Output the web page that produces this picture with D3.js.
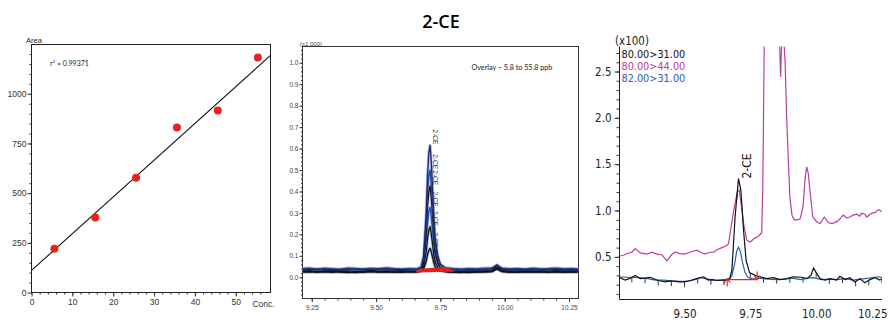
<!DOCTYPE html>
<html>
<head>
<meta charset="utf-8">
<script src="https://cdn.jsdelivr.net/npm/d3@7"></script>
<style>
  body { margin: 0; background: #fff; }
  svg { display: block; }
</style>
</head>
<body>
<svg id="chart" width="894" height="320"></svg>
<script>
const title = '2-CE';

// ---- left: calibration curve ----
const calConc = [5.6, 15.6, 25.6, 35.6, 45.6, 55.4];
const calArea = [220, 378, 577, 830, 916, 1182];
const calFit = [111, 18.5]; // intercept, slope of drawn line
const calR2 = '0.99371';
const calTicksX = [0, 10, 20, 30, 40, 50];
const calTicksY = [0, 250, 500, 750, 1000];

// ---- middle: overlay 5.8 .. 55.8 ppb (x1,000) ----
const midTime = [9.214, 9.24, 9.27, 9.30, 9.33, 9.36, 9.39, 9.42, 9.45, 9.48, 9.51, 9.54, 9.57, 9.60, 9.63, 9.66,
  9.675, 9.685, 9.695, 9.70, 9.705, 9.71, 9.715, 9.72, 9.725, 9.73, 9.74, 9.75, 9.77, 9.80, 9.83, 9.86, 9.89,
  9.92, 9.95, 9.97, 9.99, 10.02, 10.05, 10.08, 10.11, 10.14, 10.17, 10.20, 10.23, 10.26, 10.287];
const mid558 = [0.036, 0.038, 0.034, 0.037, 0.033, 0.036, 0.039, 0.034, 0.037, 0.035, 0.038, 0.040, 0.035, 0.036, 0.034, 0.036,
  0.045, 0.10, 0.30, 0.47, 0.58, 0.615, 0.53, 0.40, 0.27, 0.18, 0.10, 0.06, 0.040, 0.036, 0.033, 0.036, 0.034,
  0.035, 0.040, 0.058, 0.040, 0.034, 0.036, 0.035, 0.037, 0.034, 0.036, 0.038, 0.035, 0.036, 0.034];
const mid458 = [0.041, 0.043, 0.039, 0.042, 0.040, 0.038, 0.043, 0.041, 0.039, 0.042, 0.040, 0.044, 0.041, 0.039, 0.041, 0.040,
  0.048, 0.09, 0.25, 0.39, 0.47, 0.50, 0.43, 0.33, 0.22, 0.15, 0.09, 0.06, 0.044, 0.041, 0.039, 0.041, 0.040,
  0.042, 0.044, 0.055, 0.043, 0.040, 0.041, 0.039, 0.042, 0.040, 0.041, 0.043, 0.040, 0.041, 0.039];
const mid358 = [0.029, 0.031, 0.027, 0.030, 0.032, 0.028, 0.030, 0.027, 0.029, 0.031, 0.028, 0.030, 0.029, 0.031, 0.028, 0.030,
  0.035, 0.07, 0.21, 0.33, 0.40, 0.425, 0.37, 0.28, 0.19, 0.12, 0.07, 0.045, 0.032, 0.029, 0.027, 0.030, 0.028,
  0.030, 0.031, 0.048, 0.032, 0.028, 0.029, 0.030, 0.028, 0.030, 0.029, 0.031, 0.029, 0.030, 0.028];
const mid258 = [0.036, 0.034, 0.038, 0.035, 0.037, 0.034, 0.036, 0.038, 0.035, 0.033, 0.036, 0.037, 0.034, 0.036, 0.035, 0.036,
  0.040, 0.065, 0.17, 0.25, 0.31, 0.325, 0.28, 0.21, 0.15, 0.10, 0.06, 0.045, 0.037, 0.035, 0.034, 0.036, 0.035,
  0.036, 0.038, 0.050, 0.037, 0.035, 0.036, 0.034, 0.036, 0.035, 0.037, 0.036, 0.034, 0.036, 0.035];
const mid158 = [0.026, 0.024, 0.027, 0.025, 0.023, 0.026, 0.024, 0.022, 0.025, 0.027, 0.024, 0.026, 0.025, 0.023, 0.026, 0.025,
  0.030, 0.05, 0.12, 0.18, 0.22, 0.235, 0.20, 0.15, 0.10, 0.07, 0.045, 0.035, 0.027, 0.024, 0.022, 0.025, 0.024,
  0.026, 0.027, 0.042, 0.027, 0.023, 0.025, 0.026, 0.024, 0.025, 0.023, 0.026, 0.025, 0.024, 0.026];
const mid58 = [0.024, 0.026, 0.023, 0.025, 0.027, 0.024, 0.022, 0.025, 0.023, 0.026, 0.024, 0.025, 0.023, 0.026, 0.024, 0.025,
  0.028, 0.04, 0.075, 0.105, 0.125, 0.135, 0.118, 0.09, 0.065, 0.048, 0.035, 0.030, 0.025, 0.023, 0.024, 0.022, 0.025,
  0.024, 0.026, 0.038, 0.026, 0.024, 0.023, 0.025, 0.024, 0.026, 0.024, 0.025, 0.023, 0.025, 0.024];
const midTraces = [mid58, mid158, mid258, mid358, mid458, mid558];
const midColors = ['#111111', '#111111', '#2451a6', '#111111', '#21489e', '#23236f'];
const midPeakTime = 9.71;
const midBaseStart = [9.655, 9.658, 9.66, 9.662, 9.665, 9.668];
const midBaseEnd = [9.80, 9.795, 9.79, 9.785, 9.78, 9.775];
const midBaseLevel0 = [0.026, 0.028, 0.030, 0.032, 0.034, 0.036];
const midBaseLevel1 = [0.030, 0.034, 0.036, 0.040, 0.042, 0.044];
const midTicksX = [9.25, 9.50, 9.75, 10.00, 10.25];
const midTicksY = [0, 0.1, 0.2, 0.3, 0.4, 0.5, 0.6, 0.7, 0.8, 0.9, 1.0];
const midNote = 'Overlay \u2013 5.8 to 55.8 ppb';

// ---- right: single run, three transitions (x100) ----
const rBlackT = [9.253, 9.275, 9.295, 9.313, 9.332, 9.35, 9.37, 9.395, 9.41, 9.427, 9.445, 9.465, 9.48, 9.50, 9.515,
  9.528, 9.553, 9.572, 9.59, 9.605, 9.623, 9.64, 9.66, 9.672, 9.68, 9.692, 9.705, 9.714, 9.724, 9.734, 9.747,
  9.768, 9.787, 9.812, 9.838, 9.863, 9.888, 9.913, 9.945, 9.964, 9.98, 9.99, 10.0, 10.015, 10.034, 10.053,
  10.078, 10.09, 10.11, 10.128, 10.147, 10.166, 10.185, 10.204, 10.223, 10.242, 10.25];
const rBlackV = [0.275, 0.25, 0.27, 0.30, 0.265, 0.27, 0.28, 0.25, 0.24, 0.23, 0.24, 0.235, 0.23, 0.23, 0.24,
  0.25, 0.27, 0.285, 0.25, 0.255, 0.245, 0.25, 0.25, 0.27, 0.36, 0.93, 1.345, 1.22, 0.79, 0.46, 0.33,
  0.30, 0.285, 0.265, 0.275, 0.255, 0.265, 0.285, 0.28, 0.265, 0.30, 0.38, 0.33, 0.265, 0.25, 0.265,
  0.25, 0.29, 0.255, 0.275, 0.23, 0.265, 0.22, 0.255, 0.275, 0.25, 0.265];
const rBlueT = [9.253, 9.28, 9.30, 9.33, 9.36, 9.39, 9.42, 9.45, 9.48, 9.50, 9.53, 9.56, 9.58, 9.61, 9.64, 9.67,
  9.68, 9.69, 9.698, 9.705, 9.712, 9.72, 9.73, 9.74, 9.76, 9.79, 9.82, 9.85, 9.88, 9.91, 9.94, 9.97, 9.99,
  10.02, 10.05, 10.08, 10.11, 10.14, 10.17, 10.20, 10.22, 10.24, 10.25];
const rBlueV = [0.285, 0.28, 0.28, 0.275, 0.265, 0.25, 0.25, 0.24, 0.235, 0.235, 0.245, 0.275, 0.265, 0.25, 0.25, 0.26,
  0.30, 0.42, 0.56, 0.605, 0.56, 0.44, 0.33, 0.28, 0.26, 0.27, 0.26, 0.255, 0.26, 0.27, 0.255, 0.27, 0.275,
  0.255, 0.26, 0.255, 0.265, 0.25, 0.26, 0.27, 0.28, 0.285, 0.275];
const rPinkT = [9.253, 9.27, 9.281, 9.30, 9.313, 9.332, 9.357, 9.375, 9.395, 9.415, 9.433, 9.45, 9.465, 9.48, 9.50,
  9.52, 9.547, 9.565, 9.578, 9.595, 9.61, 9.625, 9.642, 9.655, 9.667, 9.68, 9.69, 9.70, 9.708, 9.716, 9.725,
  9.736, 9.75, 9.765, 9.78, 9.793, 9.797, 9.80, 9.803, 9.86, 9.865, 9.87, 9.876, 9.882, 9.888, 9.895, 9.90,
  9.908, 9.916, 9.93, 9.939, 9.95, 9.958, 9.964, 9.97, 9.977, 9.987, 10.002, 10.015, 10.031, 10.046, 10.06,
  10.078, 10.09, 10.103, 10.116, 10.128, 10.14, 10.154, 10.165, 10.173, 10.185, 10.192, 10.21, 10.225, 10.236, 10.25];
const rPinkV = [0.507, 0.52, 0.536, 0.55, 0.59, 0.543, 0.529, 0.55, 0.53, 0.52, 0.457, 0.52, 0.554, 0.535, 0.53,
  0.55, 0.572, 0.545, 0.53, 0.55, 0.55, 0.58, 0.60, 0.615, 0.64, 0.88, 1.05, 1.2, 1.22, 1.05, 0.85,
  0.68, 0.66, 0.70, 0.72, 0.76, 1.2, 2.0, 2.9, 2.9, 2.44, 2.9, 2.9, 2.6, 2.0, 1.5, 1.15,
  0.95, 0.9, 0.9, 0.91, 1.04, 1.35, 1.47, 1.40, 1.2, 0.93, 0.88, 0.86, 0.93, 0.87, 0.86,
  0.88, 0.91, 0.95, 0.92, 0.93, 0.95, 0.96, 0.94, 0.97, 0.96, 0.93, 0.97, 0.98, 1.01, 0.99];
const rightLegend = ['80.00>31.00', '80.00>44.00', '82.00>31.00'];
const rightColors = ['#111111', '#b8409a', '#2c5db0'];
const rightBaseT = [9.662, 9.776];
const rightBaseV = [0.255, 0.255];
const rightTicksX = [9.50, 9.75, 10.00, 10.25];
const rightTicksY = [0.5, 1.0, 1.5, 2.0, 2.5];

const red = '#e5211d';
const axisFont = '"Liberation Sans", Arial, sans-serif';
const svg = d3.select('#chart');

function styleAxis(g, size, color) {
  g.select('.domain').remove();
  g.attr('font-size', size).attr('font-family', axisFont);
  g.selectAll('line').attr('stroke', '#333');
  g.selectAll('text').attr('fill', color || '#333');
}

// title
svg.append('text')
  .attr('x', 441).attr('y', 28)
  .attr('text-anchor', 'middle')
  .style('font', '600 18px "Open Sans", "Noto Sans", sans-serif')
  .text(title);

// ===== left panel =====
const lx = d3.scaleLinear().domain([0, 58.5]).range([31.5, 270.5]);
const ly = d3.scaleLinear().domain([0, 1248]).range([292.5, 44.5]);
const left = svg.append('g');

left.append('g').attr('transform', 'translate(0,292.5)')
  .call(d3.axisBottom(lx).tickValues(d3.range(0, 58, 2)).tickSize(2).tickFormat(''))
  .call(g => styleAxis(g, 9));
left.append('g').attr('transform', 'translate(0,292.5)')
  .call(d3.axisBottom(lx).tickValues(calTicksX).tickSize(4).tickPadding(2).tickFormat(d3.format('d')))
  .call(g => styleAxis(g, 8.5));
left.append('g').attr('transform', 'translate(31.5,0)')
  .call(d3.axisLeft(ly).tickValues(d3.range(50, 1250, 50)).tickSize(2).tickFormat(''))
  .call(g => styleAxis(g, 9));
left.append('g').attr('transform', 'translate(31.5,0)')
  .call(d3.axisLeft(ly).tickValues(calTicksY).tickSize(4).tickPadding(1).tickFormat(d3.format('d')))
  .call(g => styleAxis(g, 8.5));

left.append('rect')
  .attr('x', lx.range()[0]).attr('y', ly.range()[1])
  .attr('width', lx.range()[1] - lx.range()[0])
  .attr('height', ly.range()[0] - ly.range()[1])
  .attr('fill', 'none').attr('stroke', '#222');

left.append('text').attr('x', lx(56.8)).attr('y', 306.5).attr('text-anchor', 'middle')
  .attr('font-family', axisFont).attr('font-size', 8.5).attr('fill', '#333').text('Conc.');
left.append('text').attr('x', 26).attr('y', 43).attr('font-family', axisFont)
  .attr('font-size', 7.5).attr('fill', '#222').text('Area');

const fitX = lx.domain();
left.append('line')
  .attr('x1', lx(fitX[0])).attr('y1', ly(calFit[0] + calFit[1] * fitX[0]))
  .attr('x2', lx(fitX[1])).attr('y2', ly(calFit[0] + calFit[1] * fitX[1]))
  .attr('stroke', '#111').attr('stroke-width', 1.1);

left.selectAll('circle.cal')
  .data(calConc.map((c, i) => [c, calArea[i]]))
  .join('circle')
  .attr('class', 'cal')
  .attr('cx', d => lx(d[0])).attr('cy', d => ly(d[1]))
  .attr('r', 4).attr('fill', '#e8231f');

const r2 = left.append('text').attr('x', 50).attr('y', 65.5)
  .style('font', '7px Lato, "Open Sans", sans-serif').attr('fill', '#222');
r2.append('tspan').text('r');
r2.append('tspan').attr('dy', -2.5).attr('font-size', 4.5).text('2');
r2.append('tspan').attr('dy', 2.5).text(' = ' + calR2);

// ===== middle panel =====
const mx = d3.scaleLinear().domain([9.214, 10.287]).range([302.5, 578.5]);
const my = d3.scaleLinear().domain([-0.099, 1.076]).range([298.5, 46.5]);
const mid = svg.append('g');

mid.append('g').attr('transform', 'translate(0,298.5)')
  .call(d3.axisBottom(mx).tickValues(d3.range(9.25, 10.27, 0.05)).tickSize(2).tickFormat(''))
  .call(g => styleAxis(g, 6.5));
mid.append('g').attr('transform', 'translate(0,298.5)')
  .call(d3.axisBottom(mx).tickValues(midTicksX).tickSize(3.5).tickPadding(3).tickFormat(d3.format('.2f')))
  .call(g => styleAxis(g, 6.5, '#444'));
mid.append('g').attr('transform', 'translate(302.5,0)')
  .call(d3.axisLeft(my).tickValues(d3.range(-0.08, 1.07, 0.02)).tickSize(1.5).tickFormat(''))
  .call(g => styleAxis(g, 6.5));
mid.append('g').attr('transform', 'translate(302.5,0)')
  .call(d3.axisLeft(my).tickValues(midTicksY).tickSize(3).tickPadding(1).tickFormat(d3.format('.1f')))
  .call(g => styleAxis(g, 6.5, '#444'));

mid.append('rect')
  .attr('x', 302.5).attr('y', 46.5).attr('width', 276).attr('height', 252)
  .attr('fill', 'none').attr('stroke', '#333');

mid.append('text').attr('x', 300).attr('y', 46).attr('font-family', axisFont)
  .attr('font-size', 6).attr('fill', '#444').text('(x1,000)');
mid.append('text').attr('x', 471.5).attr('y', 69.5)
  .style('font', '7.2px Lato, "Open Sans", sans-serif').attr('fill', '#222').text(midNote);

const midLine = d3.line().x((d, i) => mx(midTime[i])).y(d => my(d));

// light halo then trace
midTraces.forEach(tr => {
  mid.append('path').datum(tr).attr('d', midLine)
    .attr('fill', 'none').attr('stroke', '#8ea6d6').attr('stroke-width', 3)
    .attr('stroke-linejoin', 'round').attr('opacity', 0.7);
});
midTraces.forEach((tr, i) => {
  mid.append('path').datum(tr).attr('d', midLine)
    .attr('fill', 'none').attr('stroke', midColors[i]).attr('stroke-width', 1.3)
    .attr('stroke-linejoin', 'round');
});

// integration baselines
midTraces.forEach((tr, i) => {
  mid.append('line')
    .attr('x1', mx(midBaseStart[i])).attr('y1', my(midBaseLevel0[i]))
    .attr('x2', mx(midBaseEnd[i])).attr('y2', my(midBaseLevel1[i]))
    .attr('stroke', red).attr('stroke-width', 1.6);
});

midTraces.forEach(tr => {
  const top = d3.max(tr);
  mid.append('text')
    .attr('transform', `translate(${mx(midPeakTime) + 2.5},${my(top) - 1}) rotate(90)`)
    .attr('text-anchor', 'end')
    .attr('font-family', axisFont).attr('font-size', 6.5).attr('fill', '#333')
    .text('2-CE');
});

// ===== right panel =====
const rx = d3.scaleLinear().domain([9.253, 10.25]).range([619.5, 882]);
const ry = d3.scaleLinear().domain([0.04, 2.77]).range([299.5, 46.5]);
const right = svg.append('g');
const rFont = '"Liberation Sans Narrow", "Arial Narrow", "DejaVu Sans Condensed", "Liberation Sans", sans-serif';

right.append('defs').append('clipPath').attr('id', 'rclip')
  .append('rect').attr('x', 619.5).attr('y', 46.5).attr('width', 262.5).attr('height', 253);

const yMinor = right.append('g').attr('transform', 'translate(619.5,0)')
  .call(d3.axisLeft(ry).tickValues(d3.range(0.1, 2.75, 0.1)).tickSize(3).tickFormat(''));
styleAxis(yMinor, 11);
const yMajor = right.append('g').attr('transform', 'translate(619.5,0)')
  .call(d3.axisLeft(ry).tickValues(rightTicksY).tickSize(5).tickPadding(3).tickFormat(d3.format('.1f')));
styleAxis(yMajor, 11.5, '#222');
yMajor.attr('font-family', rFont);
const xr = right.append('g').attr('transform', 'translate(0,299.5)')
  .call(d3.axisBottom(rx).tickValues(rightTicksX).tickSize(0).tickPadding(10).tickFormat(d3.format('.2f')));
styleAxis(xr, 11.5, '#222');
xr.attr('font-family', rFont);
// last label sits against the edge
xr.selectAll('text').filter(d => d === rightTicksX[rightTicksX.length - 1])
  .attr('text-anchor', 'end').attr('x', 887 - rx(rightTicksX[rightTicksX.length - 1]));

right.append('line').attr('x1', 619.5).attr('x2', 619.5).attr('y1', 46.5).attr('y2', 299.5)
  .attr('stroke', '#222');
right.append('line').attr('x1', 619.5).attr('x2', 882).attr('y1', 299.5).attr('y2', 299.5)
  .attr('stroke', '#222');

const plot = right.append('g').attr('clip-path', 'url(#rclip)');
const rLine = d3.line().x(d => rx(d[0])).y(d => ry(d[1]));
const zipT = (t, v) => t.map((x, i) => [x, v[i]]);

// hanging scan ticks along the black trace
const bis = d3.bisector(d => d).left;
function blackAt(t) {
  const i = Math.min(Math.max(bis(rBlackT, t), 1), rBlackT.length - 1);
  const t0 = rBlackT[i - 1], t1 = rBlackT[i];
  return rBlackV[i - 1] + (rBlackV[i] - rBlackV[i - 1]) * (t - t0) / (t1 - t0);
}
plot.selectAll('line.scan')
  .data(d3.range(9.30, 10.251, 0.05))
  .join('line')
  .attr('class', 'scan')
  .attr('x1', d => rx(d)).attr('x2', d => rx(d))
  .attr('y1', d => ry(blackAt(d))).attr('y2', d => ry(blackAt(d)) + 5)
  .attr('stroke', '#333').attr('stroke-width', 1);

plot.append('path').datum(zipT(rPinkT, rPinkV)).attr('d', rLine)
  .attr('fill', 'none').attr('stroke', rightColors[1]).attr('stroke-width', 1.2);
plot.append('path').datum(zipT(rBlueT, rBlueV)).attr('d', rLine)
  .attr('fill', 'none').attr('stroke', rightColors[2]).attr('stroke-width', 1.2);
plot.append('path').datum(zipT(rBlackT, rBlackV)).attr('d', rLine)
  .attr('fill', 'none').attr('stroke', rightColors[0]).attr('stroke-width', 1.2);

// integration baseline with start/end markers
const bx0 = rx(rightBaseT[0]), bx1 = rx(rightBaseT[1]);
const by0 = ry(rightBaseV[0]), by1 = ry(rightBaseV[1]);
plot.append('line').attr('x1', bx0).attr('y1', by0).attr('x2', bx1).attr('y2', by1)
  .attr('stroke', red).attr('stroke-width', 1.3);
plot.append('path')
  .attr('d', `M${bx0},${by0 + 7}V${by0 - 1}M${bx0 - 3},${by0 + 3}L${bx0},${by0 - 1}L${bx0 + 3},${by0 + 3}`)
  .attr('fill', 'none').attr('stroke', red).attr('stroke-width', 1.1);
plot.append('path')
  .attr('d', `M${bx1},${by1 - 8}V${by1}M${bx1 - 3},${by1 - 4}L${bx1},${by1}L${bx1 + 3},${by1 - 4}`)
  .attr('fill', 'none').attr('stroke', red).attr('stroke-width', 1.1);

// peak label
const pk = d3.maxIndex(rBlackV);
right.append('text')
  .attr('transform', `translate(${rx(rBlackT[pk]) + 12.5},${ry(rBlackV[pk])}) rotate(-90)`)
  .attr('font-family', rFont).attr('font-size', 12).attr('fill', '#111')
  .text('2-CE');

right.append('text').attr('x', 615).attr('y', 45).attr('font-family', rFont)
  .attr('font-size', 11.5).attr('fill', '#222').text('(x100)');
right.selectAll('text.leg')
  .data(rightLegend)
  .join('text')
  .attr('class', 'leg')
  .attr('x', 621.5).attr('y', (d, i) => 58.3 + i * 11.7)
  .attr('font-family', rFont).attr('font-size', 10.8)
  .attr('fill', (d, i) => rightColors[i])
  .text(d => d);
</script>
</body>
</html>
